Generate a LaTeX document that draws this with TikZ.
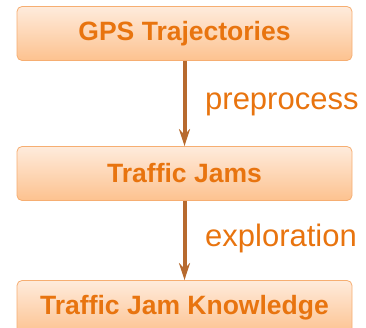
\documentclass[tikz,border=0pt]{standalone}
\usepackage{fontspec}
\setmainfont{Liberation Sans}
\usetikzlibrary{arrows.meta}
\definecolor{boxline}{HTML}{F6AE72}
\definecolor{boxtop}{HTML}{FEEBDC}
\definecolor{boxbot}{HTML}{FDC28F}
\definecolor{txt}{HTML}{E8740F}
\definecolor{arr}{HTML}{B76A2E}

\begin{document}
\begin{tikzpicture}[x=1pt, y=1pt,
  box/.style={draw=boxline, line width=0.8pt, rounded corners=5pt, minimum width=335pt, minimum height=54pt,
    top color=boxtop, bottom color=boxbot, text=txt, font=\fontsize{26.5}{30}\selectfont\bfseries},
  lbl/.style={text=txt, anchor=base west, inner sep=0pt, font=\fontsize{31}{35}\selectfont},
  >={Stealth[length=17pt, width=11pt]}]
\clip (0,0) rectangle (366,-328);
\node[box] (gps) at (184.5,-33.5) {GPS Trajectories};
\node[box] (jams) at (184.5,-173.5) {Traffic Jams};
\node[box] (know) at (184.5,-307.5) {Traffic Jam Knowledge};
\node[lbl] (pre) at (205,-110) {preprocess};
\node[lbl] (exp) at (205,-247) {exploration};
\draw[->, arr, line width=4pt] (gps) -- (jams);
\draw[->, arr, line width=4pt] (jams) -- (know);
\end{tikzpicture}
\end{document}
